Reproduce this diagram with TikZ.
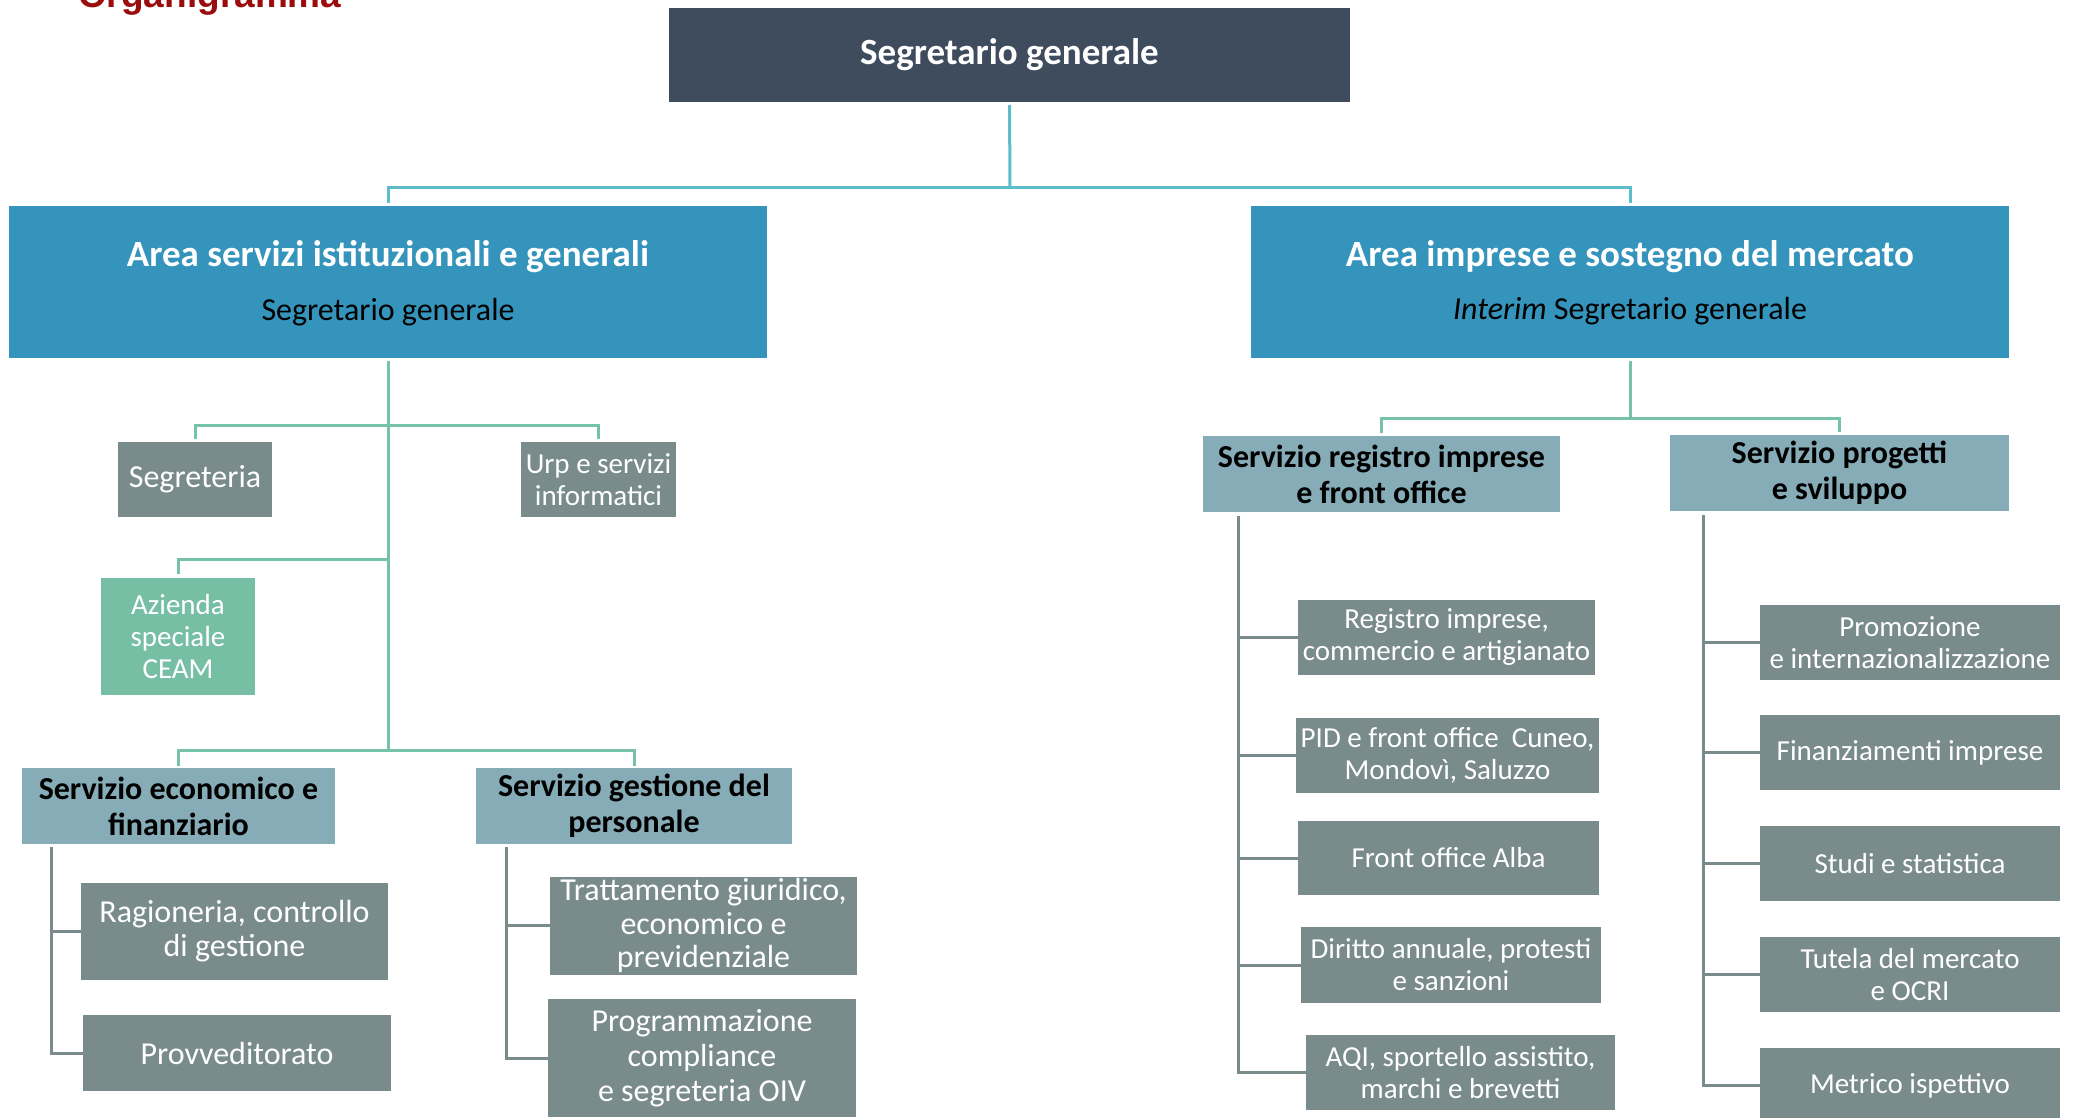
\documentclass[tikz,border=0pt]{standalone}
\usepackage{fontspec}
\setmainfont{Carlito}
\newfontfamily\titlefont{Liberation Sans}
\usetikzlibrary{calc}
\definecolor{topbox}{HTML}{3E4C5E}
\definecolor{areabox}{HTML}{3594BB}
\definecolor{servbox}{HTML}{85ACB7}
\definecolor{graybox}{HTML}{7A8B8C}
\definecolor{ceambox}{HTML}{76BFA5}
\definecolor{linetop}{HTML}{5DBDCA}
\definecolor{linegreen}{HTML}{76C2A9}
\definecolor{linegray}{HTML}{7A8B8C}
\definecolor{titlered}{HTML}{9B0C0C}
\tikzset{
  boxbase/.style={inner sep=0pt, outer sep=0pt, align=center},
  sz/.style 2 args={minimum width=#1, minimum height=#2},
  topnode/.style={boxbase, fill=topbox, text=white, font=\fontsize{37}{44}\selectfont\bfseries},
  areanode/.style={boxbase, fill=areabox},
  areatitle/.style={inner sep=0pt, anchor=base, text=white, font=\fontsize{37}{44}\selectfont\bfseries},
  areasub/.style={inner sep=0pt, anchor=base, text=black, font=\fontsize{32}{38}\selectfont},
  servnode/.style={boxbase, fill=servbox, text=black, font=\fontsize{32}{36}\selectfont\bfseries},
  unitnode/.style={boxbase, fill=graybox, text=white, font=\fontsize{32}{34}\selectfont},
  unitsmall/.style={boxbase, fill=graybox, text=white, font=\fontsize{29}{32}\selectfont},
  ceamnode/.style={boxbase, fill=ceambox, text=white, font=\fontsize{29}{32}\selectfont},
  toplink/.style={draw=linetop, line width=3pt},
  greenlink/.style={draw=linegreen, line width=3pt},
  graylink/.style={draw=linegray, line width=3pt},
}
\begin{document}
\begin{tikzpicture}[x=1pt,y=-1pt]
\useasboundingbox (0,0) rectangle (2073,1118);
\fill[white] (0,0) rectangle (2073,1118);

% title (cut at the top edge)
\node[inner sep=0pt, anchor=base west, text=titlered, font=\titlefont\bfseries\fontsize{37}{44}\selectfont] (title) at (78,8) {Organigramma};

% top
\node[topnode, sz={681pt}{94pt}] (top) at (1009.5,55) {Segretario generale};

% areas
\node[areanode, sz={758pt}{152pt}] (areaL) at (388,282) {};
\node[areatitle] (areaLt) at (388,267) {Area servizi istituzionali e generali};
\node[areasub] (areaLs) at (388,320) {Segretario generale};
\node[areanode, sz={758pt}{152pt}] (areaR) at (1630,282) {};
\node[areatitle] (areaRt) at (1630,267) {Area imprese e sostegno del mercato};
\node[areasub] (areaRs) at (1630,319) {\textit{Interim} Segretario generale};

% left area units
\node[unitnode, sz={154pt}{75pt}] (segr) at (195,479.5) {Segreteria};
\node[unitsmall, sz={155pt}{75pt}] (urp) at (598.5,479.5) {Urp e servizi\\informatici};
\node[ceamnode, sz={154pt}{117pt}] (ceam) at (178,636.5) {Azienda\\speciale\\CEAM};
\node[servnode, sz={313pt}{76pt}] (econ) at (178.5,806) {Servizio economico e\\finanziario};
\node[servnode, sz={316pt}{76pt}] (gest) at (634,806) {Servizio gestione del\\personale};
\node[unitnode, sz={307pt}{97pt}] (rag) at (234.5,931.5) {Ragioneria, controllo\\di gestione};
\node[unitnode, sz={308pt}{76pt}] (prov) at (237,1053) {Provveditorato};
\node[unitnode, sz={307pt}{98pt}, font=\fontsize{32}{33.5}\selectfont] (tratt) at (703.5,925.5) {Trattamento giuridico,\\economico e\\previdenziale};
\node[unitnode, sz={308pt}{118pt}, font=\fontsize{32}{35}\selectfont] (progr) at (702,1058) {Programmazione\\compliance\\e segreteria OIV};

% right area units
\node[servnode, sz={357pt}{76pt}] (sreg) at (1381.5,474) {Servizio registro imprese\\e front office};
\node[servnode, sz={339pt}{76pt}] (sprog) at (1839.5,473) {Servizio progetti\\e sviluppo};
\node[unitsmall, sz={297pt}{75pt}] (reg) at (1446.5,637.5) {Registro imprese,\\commercio e artigianato};
\node[unitsmall, sz={303pt}{75pt}] (pid) at (1447.5,755.5) {PID e front office\ \ Cuneo,\\Mondovì, Saluzzo};
\node[unitsmall, sz={301pt}{74pt}] (alba) at (1448.5,858) {Front office Alba};
\node[unitsmall, sz={300pt}{76pt}] (dir) at (1451,965) {Diritto annuale, protesti\\e sanzioni};
\node[unitsmall, sz={309pt}{75pt}] (aqi) at (1460.5,1072.5) {AQI, sportello assistito,\\marchi e brevetti};
\node[unitsmall, sz={300pt}{75pt}] (prom) at (1910,642.5) {Promozione\\e internazionalizzazione};
\node[unitsmall, sz={300pt}{75pt}] (fin) at (1910,752.5) {Finanziamenti imprese};
\node[unitsmall, sz={300pt}{75pt}] (stud) at (1910,863.5) {Studi e statistica};
\node[unitsmall, sz={300pt}{75pt}] (tut) at (1910,974.5) {Tutela del mercato\\e OCRI};
\node[unitsmall, sz={300pt}{75pt}] (metr) at (1910,1085.5) {Metrico ispettivo};

% top connectors
\coordinate (jtop) at (1010,188);
\draw[toplink] ($(top.south)+(0,3)$) -- (jtop);
\draw[toplink] ($(areaL.north)+(0,-3)$) |- (jtop) -| ($(areaR.north)+(0,-3)$);

% left tree
\coordinate (lj1) at (388,425);
\coordinate (lj2) at (388,559);
\coordinate (lj3) at (388,750);
\draw[greenlink] ($(areaL.south)+(0,3)$) -- (lj3);
\draw[greenlink] ($(segr.north)+(0,-3)$) |- (lj1) -| ($(urp.north)+(0,-3)$);
\draw[greenlink] ($(ceam.north)+(0,-4)$) |- (lj2);
\draw[greenlink] ($(econ.north)+(0,-2)$) |- (lj3) -| ($(gest.north)+(0,-2)$);

% right tree
\coordinate (rj) at (1630,418);
\draw[greenlink] ($(areaR.south)+(0,3)$) -- (rj);
\draw[greenlink] ($(sreg.north)+(0,-3)$) |- (rj) -| ($(sprog.north)+(0,-3)$);

% gray sub-branches
\coordinate (ge) at ($(econ.south west)+(29,3)$);
\draw[graylink] (ge) |- (rag.west);
\draw[graylink] (ge) |- (prov.west);
\coordinate (gg) at ($(gest.south west)+(30,3)$);
\draw[graylink] (gg) |- (tratt.west);
\draw[graylink] (gg) |- (progr.west);
\coordinate (gr) at ($(sreg.south west)+(35,4)$);
\foreach \n in {reg,pid,alba,dir,aqi} \draw[graylink] (gr) |- (\n.west);
\coordinate (gp) at ($(sprog.south west)+(33,4)$);
\foreach \n in {prom,fin,stud,tut,metr} \draw[graylink] (gp) |- (\n.west);
\end{tikzpicture}
\end{document}
